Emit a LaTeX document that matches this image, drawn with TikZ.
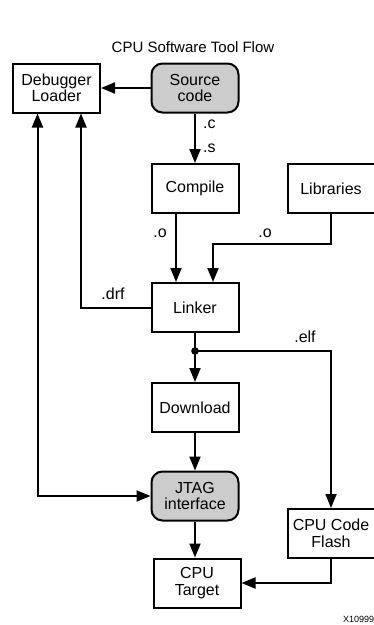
\documentclass[tikz,border=0pt]{standalone}
\usepackage{fontspec}
\setmainfont{Liberation Sans}
\usetikzlibrary{arrows.meta}
\begin{document}
\begin{tikzpicture}[x=1pt,y=-1pt,
  font=\fontsize{16}{16.5}\selectfont,
  box/.style={draw,line width=2pt,minimum width=87pt,minimum height=49pt,inner sep=0pt,align=center},
  gbox/.style={box,fill=black!20,rounded corners=11pt},
  conn/.style={line width=2pt},
  arr/.style={conn,-{Triangle[length=14pt,width=11pt]}},
  lbl/.style={inner sep=0pt}]
\useasboundingbox (0,0) rectangle (374,625);
\node[lbl,font=\fontsize{15}{16}\selectfont] (title) at (193,47) {CPU Software Tool Flow};
\node[box]  (dbg)  at (56.5,88) {Debugger\\Loader};
\node[gbox] (src)  at (195,88) {Source\\code};
\node[box]  (comp) at (195,188.5) {Compile};
\node[box]  (lib)  at (331,188.5) {Libraries};
\node[box]  (link) at (195,307.5) {Linker};
\node[box]  (down) at (195,407.5) {Download};
\node[gbox] (jtag) at (195,496) {JTAG\\interface};
\node[box]  (tgt)  at (197,583) {CPU\\Target};
\node[box]  (fl)   at (331,533.5) {CPU Code\\Flash};
\coordinate (dot) at (195,351);
\node[lbl,font=\fontsize{9}{10}\selectfont,anchor=west] (xid) at (343,619) {X10999};

\draw[arr] (src.west) -- (dbg.east);
\draw[arr] (src.south) -- (comp.north);
\node[lbl,anchor=west] (lc) at (203,124) {.c};
\node[lbl,anchor=west] (ls) at (203,148) {.s};
\draw[arr] ([xshift=-19pt]comp.south) -- ([xshift=-19pt]link.north);
\node[lbl] (lo1) at (160,233) {.o};
\draw[arr] (lib.south) -- (lib.south |- 0,244.3) -| ([xshift=18pt]link.north);
\node[lbl] (lo2) at (265,233) {.o};
\draw[arr] (link.west) -| ([xshift=24.5pt]dbg.south);
\node[lbl] (ldrf) at (113,294) {.drf};
\draw[conn,{Triangle[length=14pt,width=11pt]}-{Triangle[length=14pt,width=11pt]}] ([xshift=-19pt]dbg.south) |- (jtag.west);
\draw[conn] (link.south) -- (dot);
\draw[arr] (dot) -- (down.north);
\fill (dot) circle (3.8pt);
\draw[arr] (dot) -| (fl.north);
\node[lbl] (lelf) at (305,337) {.elf};
\draw[arr] (down.south) -- (jtag.north);
\draw[arr] (jtag.south) -- (jtag.south |- tgt.north);
\draw[arr] (fl.south) |- (tgt.east);
\end{tikzpicture}
\end{document}
